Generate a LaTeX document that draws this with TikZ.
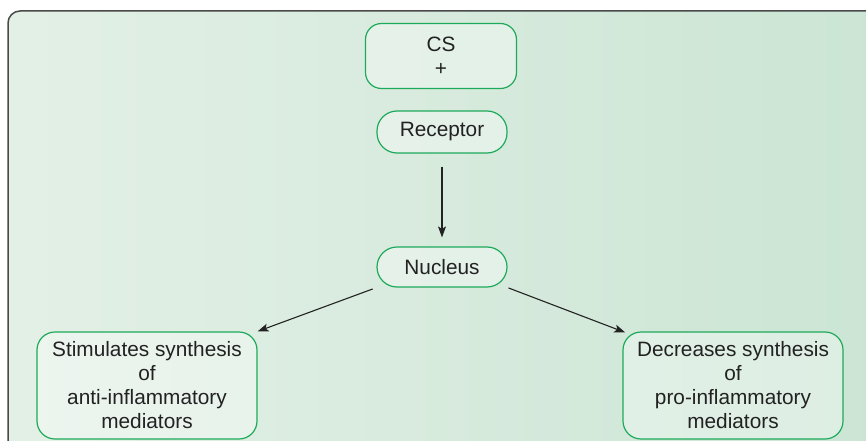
\documentclass[tikz,border=0pt]{standalone}
\usepackage{fontspec}
\setmainfont{Liberation Sans}
\usetikzlibrary{arrows.meta,calc}

\definecolor{bgleft}{HTML}{E3F0E6}
\definecolor{bgright}{HTML}{CBE5D4}
\definecolor{boxline}{HTML}{1DAA5A}
\definecolor{ink}{HTML}{222222}
\definecolor{frameline}{HTML}{4A4A4A}

\begin{document}
\begin{tikzpicture}[x=1pt,y=-1pt,
  box/.style={draw=boxline, line width=1.2pt, fill=white, fill opacity=0.35,
    text opacity=1, draw opacity=1, align=center, text=ink, inner sep=0pt,
    font=\fontsize{20.8}{24}\selectfont},
  pill/.style={box, rounded corners=20pt},
  card/.style={box, rounded corners=18pt},
  flow/.style={draw=ink, line width=1.1pt,
    -{Stealth[length=11pt,width=8pt,inset=2.5pt]}}
]
\useasboundingbox (0,0) rectangle (866,441);
\clip (0,0) rectangle (866,441);
\fill[white] (0,0) rectangle (866,441);

% panel with a rounded top-left corner
\shade[left color=bgleft, right color=bgright]
  (8,460) [rounded corners=12pt] -- (8,11) -- (880,11) [sharp corners] -- (880,460) -- cycle;
\draw[frameline, line width=1.5pt, rounded corners=12pt]
  (8,460) -- (8,11) -- (880,11);

% nodes
\node[card, rounded corners=16pt, minimum width=151pt, minimum height=65pt] (cs) at (441,56) {CS\\+};
\node[pill, minimum width=130pt, minimum height=42pt] (rec) at (442,132) {Receptor};
\node[pill, minimum width=130pt, minimum height=40pt] (nuc) at (442,267) {Nucleus};
\node[card, minimum width=220pt, minimum height=107pt] (anti) at (147,385.5)
  {Stimulates synthesis\\of\\anti-inflammatory\\mediators};
\node[card, minimum width=220pt, minimum height=107pt] (pro) at (733,385.5)
  {Decreases synthesis\\of\\pro-inflammatory\\mediators};

% connectors
\draw[flow, shorten <=13pt, shorten >=9pt] (rec.south) -- (nuc.north);
\draw[flow, shorten <=4pt] (nuc.south west) -- (anti.north east);
\draw[flow, shorten <=1pt, shorten >=-3pt] (nuc.south east) -- (pro.north west);
\end{tikzpicture}
\end{document}
